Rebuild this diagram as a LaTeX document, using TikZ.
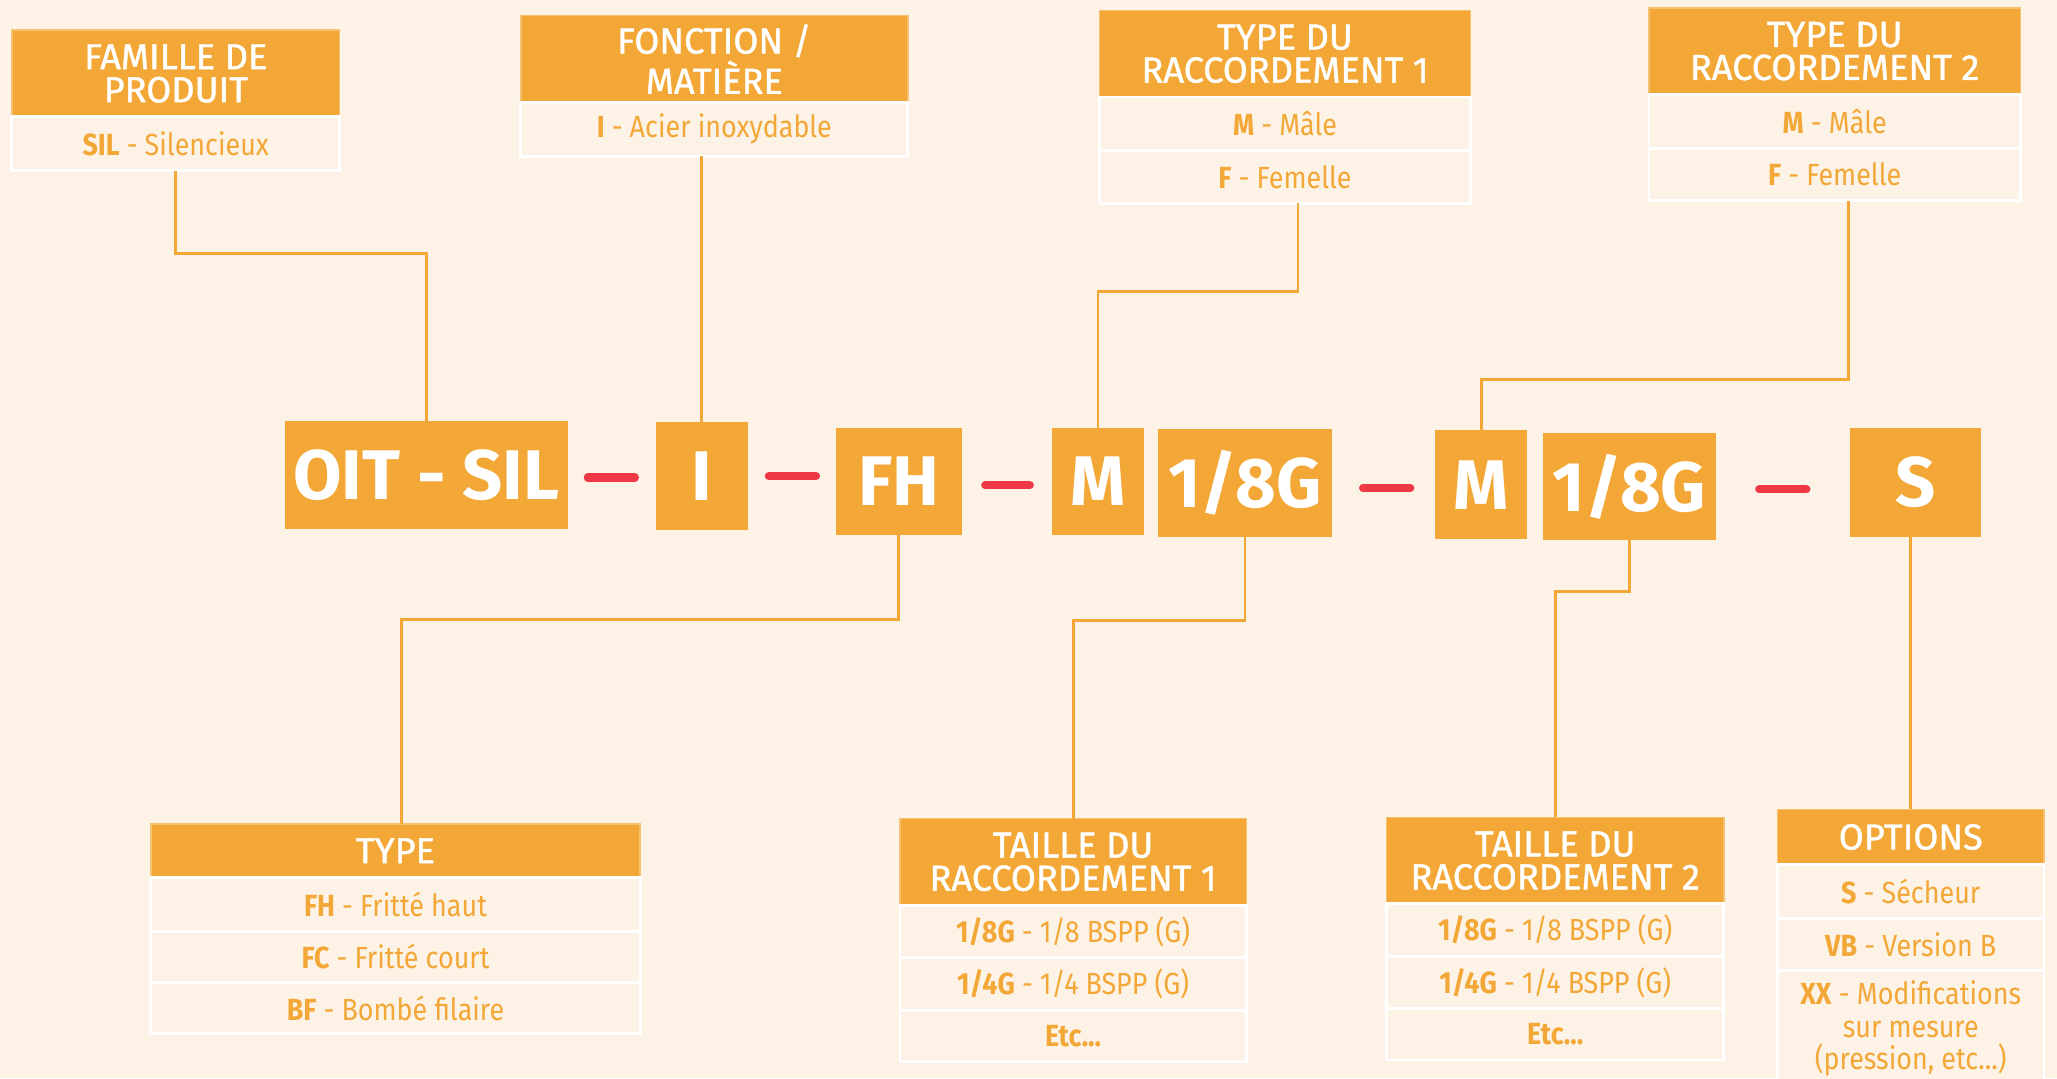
\documentclass[tikz,border=0pt]{standalone}
\usepackage{fontspec}
\setmainfont{Fira Sans}
\newfontfamily\lignefont[FakeStretch=0.88]{Fira Sans}
\newfontfamily\titrefont[FakeBold=1.2]{Fira Sans}
\usepackage{tikz}
\usetikzlibrary{positioning}
\definecolor{ambre}{HTML}{F3A736}
\definecolor{creme}{HTML}{FDF2E6}
\definecolor{rouge}{HTML}{EF3845}
\newcommand{\pu}{0.013119cm}
\tikzstyle{titre} = [
  rectangle, fill=ambre, draw=ambre!70!white, line width=0.4pt,
  text=white, align=center, inner sep=0pt, outer sep=0pt,
  font=\titrefont\fontsize{10.3}{9.4}\selectfont
]
\tikzstyle{ligne} = [
  rectangle, fill=creme, draw=white, line width=0.8pt,
  text=ambre, align=center, inner sep=0pt, outer sep=0pt,
  font=\lignefont\fontsize{8.7}{9.3}\selectfont
]
\tikzstyle{codebox} = [
  rectangle, fill=ambre, text=white, inner sep=0pt, outer sep=0pt,
  minimum height=82*\pu, font=\bfseries\fontsize{20}{20}\selectfont
]
\tikzstyle{lien} = [draw=ambre, line width=0.8pt]
\tikzstyle{tiret} = [draw=rouge, line width=2.3pt, line cap=round]

\begin{document}
\begin{tikzpicture}[x=\pu, y=-\pu]
  \useasboundingbox[fill=creme] (0,0) rectangle (1568,822);

  % tableaux du haut
  \node[titre, minimum width=250*\pu, minimum height=66*\pu]
    (famille) at (134,56) {FAMILLE DE\\PRODUIT};
  \node[ligne, minimum width=250*\pu, minimum height=41*\pu, below=0pt of famille]
    (famille1) {\textbf{SIL} - Silencieux};

  \node[titre, minimum width=295*\pu, minimum height=66*\pu]
    (fonction) at (544.5,45) {FONCTION /\\MATIÈRE};
  \node[ligne, minimum width=295*\pu, minimum height=41*\pu, below=0pt of fonction]
    (fonction1) {\textbf{I} - Acier inoxydable};

  \node[titre, minimum width=283*\pu, minimum height=66*\pu]
    (racc1) at (979.5,41) {TYPE DU\\RACCORDEMENT 1};
  \node[ligne, minimum width=283*\pu, minimum height=41*\pu, below=0pt of racc1]
    (racc1a) {\textbf{M} - Mâle};
  \node[ligne, minimum width=283*\pu, minimum height=40*\pu, below=0pt of racc1a]
    (racc1b) {\textbf{F} - Femelle};

  \node[titre, minimum width=283*\pu, minimum height=66*\pu]
    (racc2) at (1398.5,39) {TYPE DU\\RACCORDEMENT 2};
  \node[ligne, minimum width=283*\pu, minimum height=41*\pu, below=0pt of racc2]
    (racc2a) {\textbf{M} - Mâle};
  \node[ligne, minimum width=283*\pu, minimum height=40*\pu, below=0pt of racc2a]
    (racc2b) {\textbf{F} - Femelle};

  % reference
  \node[codebox, minimum width=216*\pu] (oit) at (325,362) {OIT - SIL};
  \node[codebox, minimum width=70*\pu]  (i)   at (535,363) {I};
  \node[codebox, minimum width=96*\pu]  (fh)  at (685,367) {FH};
  \node[codebox, minimum width=70*\pu]  (m1)  at (837,367) {M};
  \node[codebox, minimum width=132*\pu] (g1)  at (949,368) {1/8G};
  \node[codebox, minimum width=70*\pu, minimum height=83*\pu]
    (m2) at (1129,369.5) {M};
  \node[codebox, minimum width=132*\pu] (g2)  at (1242,371) {1/8G};
  \node[codebox, minimum width=100*\pu, minimum height=83*\pu]
    (s) at (1460,367.5) {S};

  \draw[tiret, shorten <=0.197cm, shorten >=0.210cm] ([yshift=-2*\pu]oit.east) -- ([yshift=-2*\pu]oit.east -| i.west);
  \draw[tiret, shorten <=0.210cm, shorten >=0.197cm] (i.east) -- (i.east -| fh.west);
  \draw[tiret, shorten <=0.236cm, shorten >=0.223cm] ([yshift=-3*\pu]fh.east) -- ([yshift=-3*\pu]fh.east -| m1.west);
  \draw[tiret, shorten <=0.315cm, shorten >=0.249cm] ([yshift=-4*\pu]g1.east) -- ([yshift=-4*\pu]g1.east -| m2.west);
  \draw[tiret, shorten <=0.433cm, shorten >=0.433cm] ([yshift=-2*\pu]g2.east) -- ([yshift=-2*\pu]g2.east -| s.west);

  % tableaux du bas
  \node[titre, minimum width=373*\pu, minimum height=41*\pu]
    (type) at (301.5,648.5) {TYPE};
  \node[ligne, minimum width=373*\pu, minimum height=41*\pu, below=0pt of type]
    (type1) {\textbf{FH} - Fritté haut};
  \node[ligne, minimum width=373*\pu, minimum height=39*\pu, below=0pt of type1]
    (type2) {\textbf{FC} - Fritté court};
  \node[ligne, minimum width=373*\pu, minimum height=39*\pu, below=0pt of type2]
    (type3) {\textbf{BF} - Bombé filaire};

  \node[titre, minimum width=264*\pu, minimum height=66*\pu]
    (taille1) at (818,657) {TAILLE DU\\RACCORDEMENT 1};
  \node[ligne, minimum width=264*\pu, minimum height=40*\pu, below=0pt of taille1]
    (taille1a) {\textbf{1/8G} - 1/8 BSPP (G)};
  \node[ligne, minimum width=264*\pu, minimum height=40*\pu, below=0pt of taille1a]
    (taille1b) {\textbf{1/4G} - 1/4 BSPP (G)};
  \node[ligne, minimum width=264*\pu, minimum height=39*\pu, below=0pt of taille1b]
    (taille1c) {\textbf{Etc...}};

  \node[titre, minimum width=257*\pu, minimum height=66*\pu]
    (taille2) at (1185.5,656) {TAILLE DU\\RACCORDEMENT 2};
  \node[ligne, minimum width=257*\pu, minimum height=40*\pu, below=0pt of taille2]
    (taille2a) {\textbf{1/8G} - 1/8 BSPP (G)};
  \node[ligne, minimum width=257*\pu, minimum height=40*\pu, below=0pt of taille2a]
    (taille2b) {\textbf{1/4G} - 1/4 BSPP (G)};
  \node[ligne, minimum width=257*\pu, minimum height=39*\pu, below=0pt of taille2b]
    (taille2c) {\textbf{Etc...}};

  \node[titre, minimum width=203*\pu, minimum height=42*\pu]
    (options) at (1456.5,638) {OPTIONS};
  \node[ligne, minimum width=203*\pu, minimum height=41*\pu, below=0pt of options]
    (options1) {\textbf{S} - Sécheur};
  \node[ligne, minimum width=203*\pu, minimum height=40*\pu, below=0pt of options1]
    (options2) {\textbf{VB} - Version B};
  \node[ligne, minimum width=203*\pu, minimum height=88*\pu, below=0pt of options2]
    (options3) {\textbf{XX} - Modifications\\sur mesure\\(pression, etc...)};

  % liaisons
  \draw[lien] (famille1.south) -- ++(0,63) -| (oit.north);
  \draw[lien] (i.north) -- (i.north |- fonction1.south);
  \draw[lien] ([xshift=0.131cm]racc1b.south) -- ++(0,67) -| (m1.north);
  \draw[lien] ([xshift=0.138cm]racc2b.south) -- ++(0,136) -| (m2.north);
  \draw[lien] (fh.south) -- ++(0,64) -| ([xshift=0.059cm]type.north);
  \draw[lien] (g1.south) -- ++(0,64) -| (taille1.north);
  \draw[lien] (g2.south) -- ++(0,39) -| (taille2.north);
  \draw[lien] (options.north) -- (options.north |- s.south);

\end{tikzpicture}
\end{document}
